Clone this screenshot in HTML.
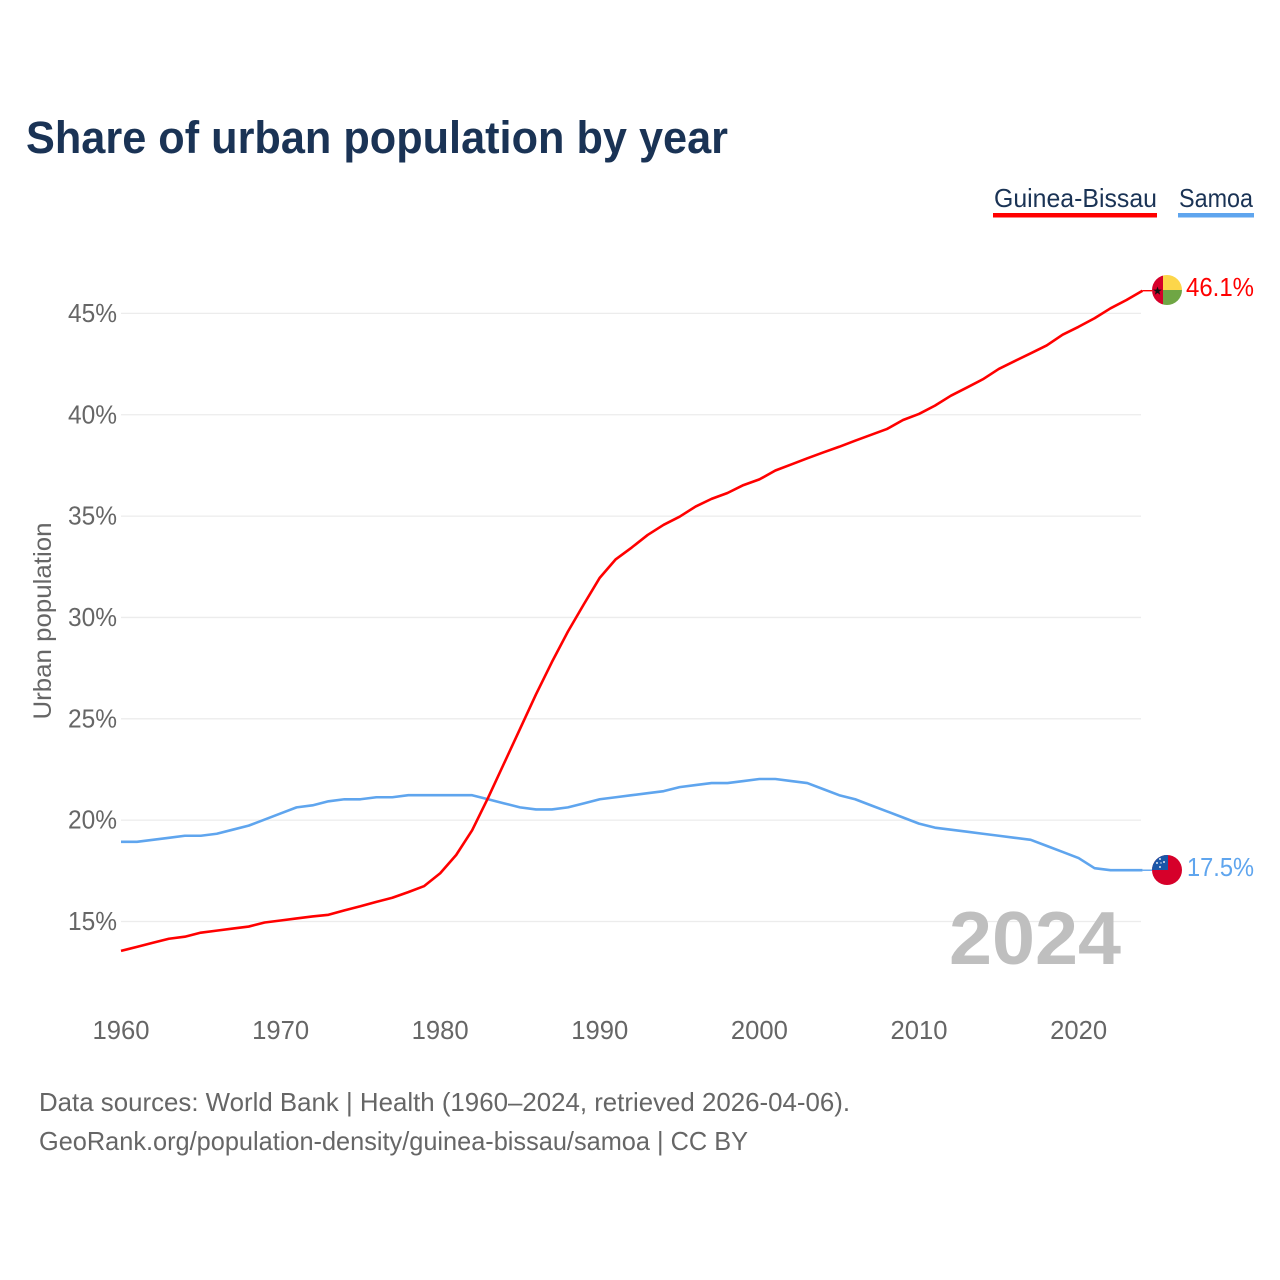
<!DOCTYPE html>
<html lang="en">
<head>
<meta charset="utf-8">
<title>Share of urban population by year</title>
<style>
html,body{margin:0;padding:0;background:#fff;width:1280px;height:1280px;overflow:hidden}
svg{display:block}
text{font-family:"Liberation Sans",sans-serif}
</style>
</head>
<body>
<svg id="chart" width="1280" height="1280" viewBox="0 0 1280 1280" xmlns="http://www.w3.org/2000/svg">
  <defs>
    <clipPath id="clip-gw"><circle cx="1167" cy="290" r="15"/></clipPath>
    <clipPath id="clip-ws"><circle cx="1167" cy="870" r="15"/></clipPath>
  </defs>
  <rect x="0" y="0" width="1280" height="1280" fill="#fff"/>
  <text x="26" y="153" font-size="45" font-weight="700" fill="#1a3355" textLength="702" lengthAdjust="spacingAndGlyphs">Share of urban population by year</text>

  <g>
    <g>
      <text x="994" y="207" font-size="26" fill="#1a3355" textLength="163" lengthAdjust="spacingAndGlyphs">Guinea-Bissau</text>
      <rect x="993" y="213" width="164" height="4.5" fill="#ff0000"/>
    </g>
    <g>
      <text x="1179" y="207" font-size="26" fill="#1a3355" textLength="74" lengthAdjust="spacingAndGlyphs">Samoa</text>
      <rect x="1178" y="213" width="76" height="4.5" fill="#5fa5ee"/>
    </g>
  </g>

  <g id="grid"></g>
  <g id="y-ticks"></g>
  <g id="x-ticks"></g>
  <text transform="translate(51,621) rotate(-90)" text-anchor="middle" font-size="25" fill="#666" textLength="197" lengthAdjust="spacingAndGlyphs">Urban population</text>

  <text x="949" y="964" font-size="75" font-weight="700" fill="#bfbfbf" textLength="172" lengthAdjust="spacingAndGlyphs">2024</text>

  <g id="series"></g>

  <g clip-path="url(#clip-gw)">
    <rect x="1163" y="275" width="19" height="15" fill="#fcd64a"/>
    <rect x="1163" y="290" width="19" height="15" fill="#6fa644"/>
    <rect x="1152" y="275" width="11" height="30" fill="#d6002a"/>
    <polygon fill="#111" points="1157.5,286.5 1158.6,289.6 1161.8,289.6 1159.2,291.6 1160.2,294.8 1157.5,292.9 1154.8,294.8 1155.8,291.6 1153.2,289.6 1156.4,289.6"/>
  </g>
  <g clip-path="url(#clip-ws)">
    <rect x="1152" y="855" width="30" height="30" fill="#d6002a"/>
    <rect x="1152" y="855" width="16" height="15" fill="#1a56a8"/>
    <circle cx="1160" cy="859" r="1" fill="#dfe8f5"/>
    <circle cx="1164" cy="862" r="1" fill="#dfe8f5"/>
    <circle cx="1157" cy="863" r="1" fill="#dfe8f5"/>
    <circle cx="1161" cy="863" r="0.7" fill="#dfe8f5"/>
    <circle cx="1160" cy="867" r="1" fill="#dfe8f5"/>
  </g>

  <text x="1186" y="296" font-size="26" fill="#ff0000" textLength="68" lengthAdjust="spacingAndGlyphs">46.1%</text>
  <text x="1187" y="876" font-size="26" fill="#5fa5ee" textLength="67" lengthAdjust="spacingAndGlyphs">17.5%</text>

  <text x="39" y="1111" font-size="26" fill="#666" textLength="811" lengthAdjust="spacingAndGlyphs">Data sources: World Bank | Health (1960–2024, retrieved 2026-04-06).</text>
  <text x="39" y="1150" font-size="26" fill="#666" textLength="709" lengthAdjust="spacingAndGlyphs">GeoRank.org/population-density/guinea-bissau/samoa | CC BY</text>
</svg>
<script>
const years = [1960,1961,1962,1963,1964,1965,1966,1967,1968,1969,1970,1971,1972,1973,1974,1975,1976,1977,1978,1979,1980,1981,1982,1983,1984,1985,1986,1987,1988,1989,1990,1991,1992,1993,1994,1995,1996,1997,1998,1999,2000,2001,2002,2003,2004,2005,2006,2007,2008,2009,2010,2011,2012,2013,2014,2015,2016,2017,2018,2019,2020,2021,2022,2023,2024];
const guineaBissau = [13.55,13.75,13.95,14.15,14.25,14.45,14.55,14.65,14.75,14.95,15.05,15.15,15.25,15.33,15.55,15.75,15.97,16.17,16.45,16.75,17.38,18.28,19.5,21.1,22.8,24.5,26.2,27.8,29.3,30.65,31.96,32.87,33.45,34.07,34.57,34.97,35.47,35.85,36.14,36.53,36.81,37.25,37.55,37.85,38.14,38.42,38.72,39.01,39.3,39.74,40.04,40.45,40.94,41.34,41.75,42.26,42.65,43.03,43.42,43.95,44.34,44.76,45.25,45.66,46.12];
const samoa = [18.93,18.93,19.03,19.13,19.23,19.23,19.33,19.53,19.73,20.03,20.33,20.63,20.73,20.93,21.03,21.03,21.13,21.13,21.23,21.23,21.23,21.23,21.23,21.03,20.83,20.63,20.53,20.53,20.63,20.83,21.03,21.13,21.23,21.33,21.43,21.63,21.73,21.83,21.83,21.93,22.03,22.03,21.93,21.83,21.53,21.23,21.03,20.73,20.43,20.13,19.83,19.63,19.53,19.43,19.33,19.23,19.13,19.03,18.73,18.43,18.13,17.63,17.53,17.53,17.53];
const yTickValues = [15,20,25,30,35,40,45];
const xTickValues = [1960,1970,1980,1990,2000,2010,2020];

const NS = 'http://www.w3.org/2000/svg';
function xScale(year){ return 121 + (year - 1960) * 15.96; }
function yScale(value){ return 921.5 - (value - 15) * 20.27; }

const gridGroup = document.getElementById('grid');
const yGroup = document.getElementById('y-ticks');
const xGroup = document.getElementById('x-ticks');
const seriesGroup = document.getElementById('series');

yTickValues.forEach(function(v){
  const line = document.createElementNS(NS, 'line');
  
  
  line.setAttribute('x1', 121);
  line.setAttribute('x2', 1141);
  line.setAttribute('y1', yScale(v));
  line.setAttribute('y2', yScale(v));
  line.setAttribute('stroke', '#ececec');
  line.setAttribute('stroke-width', '1.3');
  gridGroup.appendChild(line);

  const label = document.createElementNS(NS, 'text');
  
  
  label.setAttribute('x', 68);
  label.setAttribute('y', yScale(v) + 8.5);
  label.setAttribute('font-size', '25.5');
  label.setAttribute('fill', '#666');
  label.setAttribute('textLength', '49');
  label.setAttribute('lengthAdjust', 'spacingAndGlyphs');
  label.textContent = v + '%';
  yGroup.appendChild(label);
});

xTickValues.forEach(function(t){
  const label = document.createElementNS(NS, 'text');
  
  
  label.setAttribute('x', xScale(t) - 28.5);
  label.setAttribute('y', 1039);
  label.setAttribute('font-size', '25.5');
  label.setAttribute('fill', '#666');
  label.setAttribute('textLength', '57');
  label.setAttribute('lengthAdjust', 'spacingAndGlyphs');
  label.textContent = t;
  xGroup.appendChild(label);
});

function drawSeries(values, color, key){
  const pts = values.map(function(v, i){
    return xScale(years[i]).toFixed(2) + ',' + yScale(v).toFixed(2);
  }).join(' ');
  const line = document.createElementNS(NS, 'polyline');
  
  
  line.setAttribute('points', pts);
  line.setAttribute('fill', 'none');
  line.setAttribute('stroke', color);
  line.setAttribute('stroke-width', '2.6');
  line.setAttribute('stroke-linejoin', 'round');
  seriesGroup.appendChild(line);

  const lastY = yScale(values[values.length - 1]);
  const connector = document.createElementNS(NS, 'line');
  
  
  connector.setAttribute('x1', xScale(years[years.length - 1]));
  connector.setAttribute('x2', 1152);
  connector.setAttribute('y1', lastY);
  connector.setAttribute('y2', lastY);
  connector.setAttribute('stroke', color);
  connector.setAttribute('stroke-width', '1.4');
  seriesGroup.appendChild(connector);
}

drawSeries(samoa, '#5fa5ee', 'samoa');
drawSeries(guineaBissau, '#ff0000', 'guinea-bissau');
</script>
</body>
</html>
